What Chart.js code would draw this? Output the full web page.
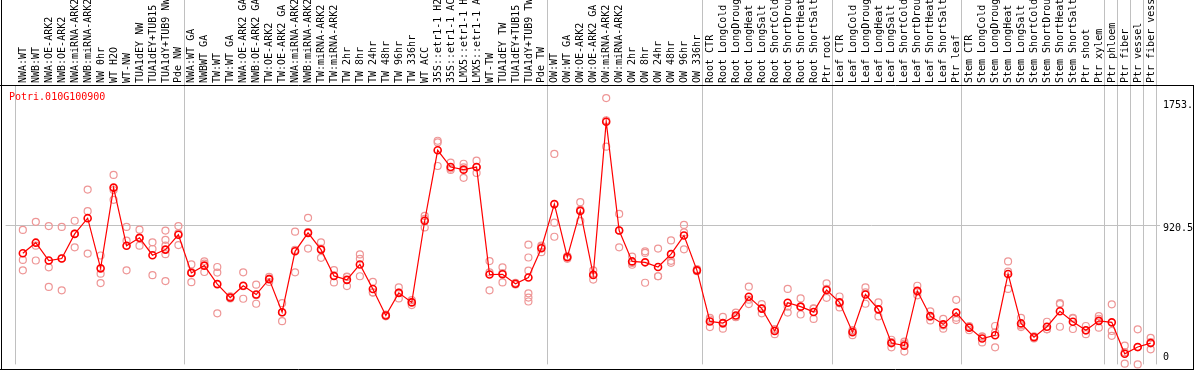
<!DOCTYPE html>
<html>
<head>
<meta charset="utf-8">
<script src="https://cdn.jsdelivr.net/npm/chart.js@4.4.1/dist/chart.umd.min.js"></script>
<style>
  html, body { margin: 0; padding: 0; background: #fff; }
</style>
</head>
<body>
<canvas id="geneChart" width="1194" height="370"></canvas>
<script>
// gene shown
const geneName = 'Potri.010G100900';

// sample names, left to right
const categories = [
  'NWA:WT', 'NWB:WT', 'NWA:OE-ARK2', 'NWB:OE-ARK2', 'NWA:miRNA-ARK2', 'NWB:miRNA-ARK2',
  'NW 0hr', 'WT H2O', 'WT-NW', 'TUA1dEY NW', 'TUA1dEY+TUB15 NW', 'TUA1dY+TUB9 NW', 'Pde NW',
  'NWA:WT GA', 'NWBWT GA', 'TW:WT', 'TW:WT GA', 'NWA:OE-ARK2 GA', 'NWB:OE-ARK2 GA',
  'TW:OE-ARK2', 'TW:OE-ARK2 GA', 'NWA:miRNA-ARK2', 'NWB:miRNA-ARK2', 'TW:miRNA-ARK2',
  'TW:miRNA-ARK2', 'TW 2hr', 'TW 8hr', 'TW 24hr', 'TW 48hr', 'TW 96hr', 'TW 336hr', 'WT ACC',
  '35S::etr1-1 H2O', '35S::etr1-1 ACC', 'LMX5::etr1-1 H2O', 'LMX5::etr1-1 ACC', 'WT-TW',
  'TUA1dEY TW', 'TUA1dEY+TUB15 TW', 'TUA1dY+TUB9 TW', 'Pde TW',
  'OW:WT', 'OW:WT GA', 'OW:OE-ARK2', 'OW:OE-ARK2 GA', 'OW:miRNA-ARK2', 'OW:miRNA-ARK2',
  'OW 2hr', 'OW 8hr', 'OW 24hr', 'OW 48hr', 'OW 96hr', 'OW 336hr',
  'Root CTR', 'Root LongCold', 'Root LongDrought', 'Root LongHeat', 'Root LongSalt',
  'Root ShortCold', 'Root ShortDrought', 'Root ShortHeat', 'Root ShortSalt', 'Ptr root',
  'Leaf CTR', 'Leaf LongCold', 'Leaf LongDrought', 'Leaf LongHeat', 'Leaf LongSalt',
  'Leaf ShortCold', 'Leaf ShortDrought', 'Leaf ShortHeat', 'Leaf ShortSalt', 'Ptr leaf',
  'Stem CTR', 'Stem LongCold', 'Stem LongDrought', 'Stem LongHeat', 'Stem LongSalt',
  'Stem ShortCold', 'Stem ShortDrought', 'Stem ShortHeat', 'Stem ShortSalt', 'Ptr shoot',
  'Ptr xylem', 'Ptr phloem', 'Ptr fiber', 'Ptr vessel', 'Ptr fiber vessel'
];

// mean expression per sample
const meanValues = [
  735, 805, 687, 700, 863, 967, 635, 1169, 785, 837, 722, 759, 857,
  605, 653, 531, 442, 520, 462, 564, 345, 748, 870, 759, 585, 559, 661, 499, 323, 473, 410,
  950, 1416, 1305, 1288, 1305, 594, 596, 533, 575, 768,
  1060, 709, 1015, 592, 1605, 885, 681, 675, 644, 729, 852, 622,
  284, 273, 323, 447, 369, 221, 408, 382, 347, 492,
  410, 213, 462, 364, 141, 124, 486, 319, 265, 343,
  243, 171, 193, 598, 271, 180, 249, 351, 282, 226,
  288, 278, 70, 115, 141
];

// individual replicates per sample
const replicates = [
  [889, 691, 622], [943, 785, 687], [915, 642, 512], [909, 490, 701], [950, 774, 865],
  [1156, 1013, 733], [720, 600, 538], [1253, 1153, 1088], [909, 818, 622], [891, 785, 835],
  [807, 763, 590], [885, 824, 785, 729, 551], [915, 789, 867],
  [661, 544, 610], [681, 611, 667], [644, 607, 338], [450, 440, 436], [609, 434, 517],
  [527, 401, 458], [579, 568, 545], [405, 286, 344], [878, 609, 757], [969, 766, 875],
  [807, 705, 765], [624, 542, 589], [581, 518, 578], [727, 698, 583], [546, 475, 476],
  [330, 318, 321], [509, 436, 474], [425, 392, 413], [982, 906, 962],
  [1479, 1468, 1312], [1334, 1295, 1286], [1327, 1234, 1303], [1347, 1266, 1302],
  [683, 490, 609], [642, 542, 604], [540, 530, 529], [792, 707, 620, 470, 442, 416],
  [785, 742, 777],
  [1392, 937, 844], [715, 698, 714], [1073, 948, 1024], [622, 561, 593], [1761, 1440, 1614],
  [995, 774, 886], [713, 659, 671], [748, 737, 540], [766, 583, 583], [820, 685, 672],
  [922, 761, 873], [630, 620, 616],
  [297, 247, 308], [314, 236, 269], [343, 312, 314], [514, 399, 428], [399, 338, 370],
  [232, 200, 231], [499, 343, 382], [436, 330, 380], [371, 301, 369], [536, 440, 500],
  [449, 377, 404], [226, 193, 220], [509, 401, 476], [410, 317, 365], [163, 113, 147],
  [150, 85, 137], [520, 481, 457], [351, 291, 315], [301, 236, 258], [427, 293, 309],
  [254, 226, 249], [145, 185, 183], [254, 113, 212], [681, 499, 614], [308, 247, 258],
  [185, 172, 183], [282, 232, 233], [405, 249, 399], [308, 234, 304], [254, 200, 224],
  [319, 243, 302], [397, 221, 189], [124, 5, 81], [232, 0, 113], [176, 100, 147]
];

// right hand axis
const yMax = 1841;
const yTickValues = [0, 920.5, 1753];
const yTickLabels = ['0', '920.5', '1753.0'];

// last sample index of each group (separator drawn after it)
const groupEnds = [-1, 12, 40, 52, 62, 72, 83, 84, 85, 86, 87];

const FONT = '10px "DejaVu Sans Mono", "Liberation Mono", monospace';

const decorations = {
  id: 'decorations',
  beforeDatasetsDraw(chart) {
    const { ctx, chartArea: a, scales: { x, y } } = chart;
    const step = x.getPixelForValue(1) - x.getPixelForValue(0);
    ctx.save();
    ctx.strokeStyle = '#c0c0c0';
    ctx.lineWidth = 1;
    const ym = Math.round(y.getPixelForValue(yTickValues[1])) + 0.5;
    ctx.beginPath();
    ctx.moveTo(a.left, ym);
    ctx.lineTo(a.right, ym);
    ctx.stroke();
    groupEnds.forEach((g, k) => {
      const px = Math.round(x.getPixelForValue(g) + step * 0.4) + 0.5;
      ctx.beginPath();
      ctx.moveTo(px, k === 0 ? a.top : 0);
      ctx.lineTo(px, a.bottom);
      ctx.stroke();
    });
    ctx.restore();
  },
  afterDraw(chart) {
    const { ctx, chartArea: a, scales: { x, y } } = chart;
    const W = chart.width, H = chart.height;
    ctx.save();
    // frame
    ctx.strokeStyle = '#000';
    ctx.lineWidth = 1;
    ctx.beginPath();
    ctx.moveTo(0, a.top - 0.5); ctx.lineTo(W, a.top - 0.5);
    ctx.moveTo(0, H - 0.5); ctx.lineTo(W, H - 0.5);
    ctx.moveTo(1.5, 0); ctx.lineTo(1.5, H);
    ctx.moveTo(W - 0.5, a.top); ctx.lineTo(W - 0.5, H);
    ctx.stroke();

    ctx.font = FONT;
    // sample labels, rotated
    ctx.fillStyle = '#000';
    ctx.textAlign = 'left';
    ctx.textBaseline = 'middle';
    categories.forEach((label, i) => {
      ctx.save();
      ctx.translate(x.getPixelForValue(i) + 0.5, a.top - 3);
      ctx.rotate(-Math.PI / 2);
      ctx.fillText(label, 0, 0);
      ctx.restore();
    });

    // axis values
    const yOffsets = [-7, 3.5, 6];
    yTickValues.forEach((v, k) => {
      ctx.fillText(yTickLabels[k], a.right + 3, y.getPixelForValue(v) + yOffsets[k]);
    });

    // gene name
    ctx.fillStyle = '#ff0000';
    ctx.fillText(geneName, 9, a.top + 11);
    ctx.restore();
  }
};

const ctx = document.getElementById('geneChart').getContext('2d');
new Chart(ctx, {
  type: 'line',
  data: {
    datasets: [
      {
        label: 'mean',
        data: meanValues.map((v, i) => ({ x: i, y: v })),
        borderColor: '#ff0000',
        borderWidth: 1.2,
        pointRadius: 3.5,
        pointBorderWidth: 1.6,
        pointBorderColor: '#ff0000',
        pointBackgroundColor: 'rgba(0,0,0,0)',
        tension: 0,
        clip: false,
        order: 0
      },
      {
        label: 'replicates',
        type: 'scatter',
        data: replicates.flatMap((vals, i) => vals.map(v => ({ x: i, y: v }))),
        showLine: false,
        pointRadius: 3.5,
        pointBorderWidth: 1.2,
        pointBorderColor: 'rgb(238,150,150)',
        pointBackgroundColor: 'rgba(0,0,0,0)',
        clip: false,
        order: 1
      }
    ]
  },
  options: {
    responsive: false,
    animation: false,
    devicePixelRatio: 1,
    layout: { padding: { left: 2, right: 34, top: 86, bottom: 1 } },
    plugins: { legend: { display: false }, tooltip: { enabled: false } },
    scales: {
      x: { type: 'linear', min: -1.33, max: 87.72, display: false },
      y: { min: 0, max: yMax, display: false }
    }
  },
  plugins: [decorations]
});
</script>
</body>
</html>
